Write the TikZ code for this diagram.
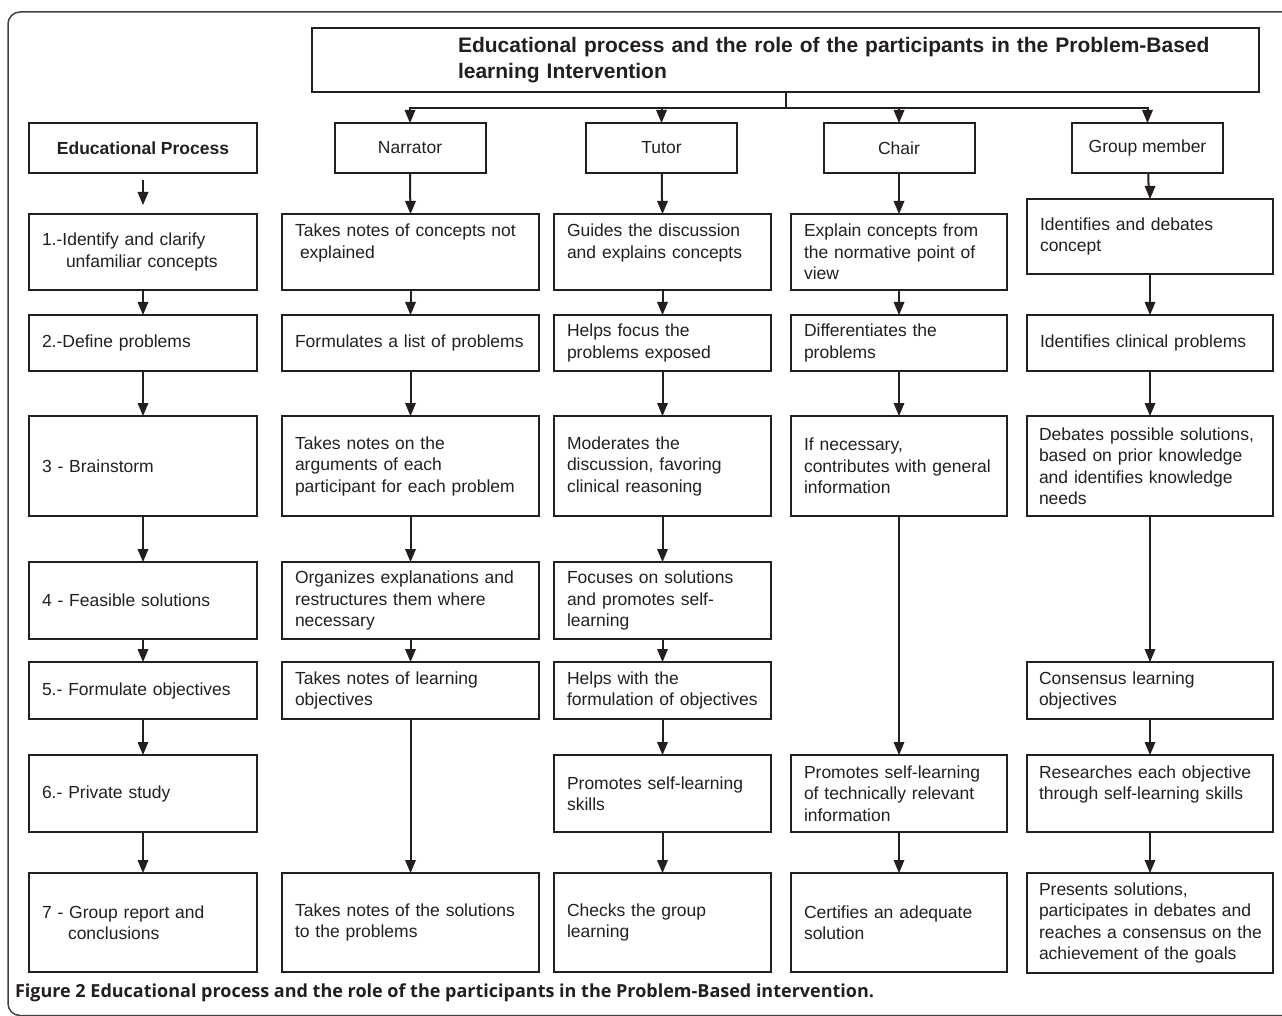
\documentclass[tikz,border=0pt]{standalone}
\usepackage{fontspec}
\setmainfont{Liberation Sans}
\newfontfamily\capfont{Open Sans}
\definecolor{ink}{HTML}{231F20}

\begin{document}
\begin{tikzpicture}[x=1pt,y=-1pt]
\tikzstyle{every node}+=[inner sep=0pt, outer sep=0pt, text=ink]
\tikzstyle{cell}=[draw=ink, line width=2pt, anchor=north west, inner xsep=13pt, align=left, font=\fontsize{17.5}{21.5}\selectfont]
\tikzstyle{role}=[draw=ink, line width=2pt, minimum width=151pt, minimum height=50pt, font=\fontsize{17.5}{21.5}\selectfont]
\tikzstyle{wire}=[draw=ink, line width=2pt, shorten >=6pt]
\useasboundingbox (0,0) rectangle (1282,1016);
\clip (0,0) rectangle (1282,1016);
% frame
\draw [black!75, line width=1.5pt, rounded corners=12pt] (1300,12) -- (8,12) -- (8,1015.5) -- (1300,1015.5);
% title and roles
\node [draw=ink, line width=2pt, anchor=north west, minimum height=64pt, text width=947pt, align=left, font=\bfseries\fontsize{21}{26}\selectfont] (title) at (312,28) {\hspace*{146pt}Educational process and the role of the participants in the Problem-Based\\\hspace*{146pt}learning Intervention};
\node [role, minimum width=228pt, font=\bfseries\fontsize{17.5}{21.5}\selectfont] (ep) at (143,148) {Educational Process};
\node [role] (nar) at (410,148) {Narrator};
\node [role] (tut) at (661.5,148) {Tutor};
\node [role] (cha) at (899,148) {Chair};
\node [role] (gm) at (1147.5,148) {Group member};
\coordinate (bus) at (785.5,108);
\draw [draw=ink, line width=2pt] (title.south) -- (bus);
\draw [wire] (bus) -| (nar.north);
\fill [ink] (nar.north) -- ++(-5.5,-13) -- ++(11,0);
\draw [wire] (bus) -| (gm.north);
\fill [ink] (gm.north) -- ++(-5.5,-13) -- ++(11,0);
\draw [wire] (bus -| tut.north) -- (tut.north);
\fill [ink] (tut.north) -- ++(-5.5,-13) -- ++(11,0);
\draw [wire] (bus -| cha.north) -- (cha.north);
\fill [ink] (cha.north) -- ++(-5.5,-13) -- ++(11,0);
% educational process
\node [cell, text width=202pt, minimum height=76pt] (s1) at (29,214) {1.-Identify and clarify\\\hspace*{24pt}unfamiliar concepts};
\node [cell, text width=202pt, minimum height=56pt] (s2) at (29,315) {2.-Define problems};
\node [cell, text width=202pt, minimum height=100pt] (s3) at (29,416) {3 - Brainstorm};
\node [cell, text width=202pt, minimum height=77pt] (s4) at (29,562) {4 - Feasible solutions};
\node [cell, text width=202pt, minimum height=57pt] (s5) at (29,662) {5.- Formulate objectives};
\node [cell, text width=202pt, minimum height=77pt] (s6) at (29,755) {6.- Private study};
\node [cell, text width=202pt, minimum height=99pt] (s7) at (29,873) {7 - Group report and\\\hspace*{26pt}conclusions};
\draw [wire, shorten <=7pt, shorten >=15pt] (ep) -- (s1);
\fill [ink] ([yshift=9pt]s1.north) -- ++(-5.5,-13) -- ++(11,0);
\draw [wire] (s1) -- (s2);
\fill [ink] (s2.north) -- ++(-5.5,-13) -- ++(11,0);
\draw [wire] (s2) -- (s3);
\fill [ink] (s3.north) -- ++(-5.5,-13) -- ++(11,0);
\draw [wire] (s3) -- (s4);
\fill [ink] (s4.north) -- ++(-5.5,-13) -- ++(11,0);
\draw [wire] (s4) -- (s5);
\fill [ink] (s5.north) -- ++(-5.5,-13) -- ++(11,0);
\draw [wire] (s5) -- (s6);
\fill [ink] (s6.north) -- ++(-5.5,-13) -- ++(11,0);
\draw [wire] (s6) -- (s7);
\fill [ink] (s7.north) -- ++(-5.5,-13) -- ++(11,0);
% narrator
\node [cell, text width=231pt, minimum height=76pt] (n1) at (282,214) {Takes notes of concepts not\\\hspace*{5pt}explained\\\mbox{}};
\node [cell, text width=231pt, minimum height=56pt] (n2) at (282,315) {Formulates a list of problems};
\node [cell, text width=231pt, minimum height=100pt] (n3) at (282,416) {Takes notes on the\\arguments of each\\participant for each problem};
\node [cell, text width=231pt, minimum height=77pt] (n4) at (282,562) {Organizes explanations and\\restructures them where\\necessary};
\node [cell, text width=231pt, minimum height=57pt] (n5) at (282,662) {Takes notes of learning\\objectives};
\node [cell, text width=231pt, minimum height=99pt] (n6) at (282,873) {Takes notes of the solutions\\to the problems};
\draw [wire] (nar) -- (n1);
\fill [ink] (n1.north) -- ++(-5.5,-13) -- ++(11,0);
\draw [wire] (n1) -- (n2);
\fill [ink] (n2.north) -- ++(-5.5,-13) -- ++(11,0);
\draw [wire] (n2) -- (n3);
\fill [ink] (n3.north) -- ++(-5.5,-13) -- ++(11,0);
\draw [wire] (n3) -- (n4);
\fill [ink] (n4.north) -- ++(-5.5,-13) -- ++(11,0);
\draw [wire] (n4) -- (n5);
\fill [ink] (n5.north) -- ++(-5.5,-13) -- ++(11,0);
\draw [wire] (n5) -- (n6);
\fill [ink] (n6.north) -- ++(-5.5,-13) -- ++(11,0);
% tutor
\node [cell, text width=191pt, minimum height=76pt] (t1) at (554,214) {Guides the discussion\\and explains concepts\\\mbox{}};
\node [cell, text width=191pt, minimum height=56pt] (t2) at (554,315) {Helps focus the\\problems exposed};
\node [cell, text width=191pt, minimum height=100pt] (t3) at (554,416) {Moderates the\\discussion, favoring\\clinical reasoning};
\node [cell, text width=191pt, minimum height=77pt] (t4) at (554,562) {Focuses on solutions\\and promotes self-\\learning};
\node [cell, text width=191pt, minimum height=57pt] (t5) at (554,662) {Helps with the\\formulation of objectives};
\node [cell, text width=191pt, minimum height=77pt] (t6) at (554,755) {Promotes self-learning\\skills};
\node [cell, text width=191pt, minimum height=99pt] (t7) at (554,873) {Checks the group\\learning};
\draw [wire] (tut) -- (t1);
\fill [ink] (t1.north) -- ++(-5.5,-13) -- ++(11,0);
\draw [wire] (t1) -- (t2);
\fill [ink] (t2.north) -- ++(-5.5,-13) -- ++(11,0);
\draw [wire] (t2) -- (t3);
\fill [ink] (t3.north) -- ++(-5.5,-13) -- ++(11,0);
\draw [wire] (t3) -- (t4);
\fill [ink] (t4.north) -- ++(-5.5,-13) -- ++(11,0);
\draw [wire] (t4) -- (t5);
\fill [ink] (t5.north) -- ++(-5.5,-13) -- ++(11,0);
\draw [wire] (t5) -- (t6);
\fill [ink] (t6.north) -- ++(-5.5,-13) -- ++(11,0);
\draw [wire] (t6) -- (t7);
\fill [ink] (t7.north) -- ++(-5.5,-13) -- ++(11,0);
% chair
\node [cell, text width=190pt, minimum height=76pt] (c1) at (791,214) {Explain concepts from\\the normative point of\\view};
\node [cell, text width=190pt, minimum height=56pt] (c2) at (791,315) {Differentiates the\\problems};
\node [cell, text width=190pt, minimum height=100pt] (c3) at (791,416) {If necessary,\\contributes with general\\information};
\node [cell, text width=190pt, minimum height=77pt] (c4) at (791,755) {Promotes self-learning\\of technically relevant\\information};
\node [cell, text width=190pt, minimum height=99pt] (c5) at (791,873) {Certifies an adequate\\solution};
\draw [wire] (cha) -- (c1);
\fill [ink] (c1.north) -- ++(-5.5,-13) -- ++(11,0);
\draw [wire] (c1) -- (c2);
\fill [ink] (c2.north) -- ++(-5.5,-13) -- ++(11,0);
\draw [wire] (c2) -- (c3);
\fill [ink] (c3.north) -- ++(-5.5,-13) -- ++(11,0);
\draw [wire] (c3) -- (c4);
\fill [ink] (c4.north) -- ++(-5.5,-13) -- ++(11,0);
\draw [wire] (c4) -- (c5);
\fill [ink] (c5.north) -- ++(-5.5,-13) -- ++(11,0);
% group member
\node [cell, inner xsep=12pt, text width=222pt, minimum height=75pt] (g1) at (1027,199) {\hspace*{1pt}Identifies and debates\\\hspace*{1pt}concept};
\node [cell, inner xsep=12pt, text width=222pt, minimum height=56pt] (g2) at (1027,315) {\hspace*{1pt}Identifies clinical problems};
\node [cell, inner xsep=12pt, text width=222pt, minimum height=100pt] (g3) at (1027,416) {Debates possible solutions,\\based on prior knowledge\\and identifies knowledge\\needs};
\node [cell, inner xsep=12pt, text width=222pt, minimum height=57pt] (g4) at (1027,662) {Consensus learning\\objectives};
\node [cell, inner xsep=12pt, text width=222pt, minimum height=77pt] (g5) at (1027,755) {Researches each objective\\through self-learning skills\\\mbox{}};
\node [cell, inner xsep=12pt, text width=222pt, minimum height=100pt] (g6) at (1027,873) {Presents solutions,\\participates in debates and\\\mbox{reaches a consensus on the}\\achievement of the goals};
\draw [wire] (gm) -- (g1);
\fill [ink] (g1.north) -- ++(-5.5,-13) -- ++(11,0);
\draw [wire] (g1) -- (g2);
\fill [ink] (g2.north) -- ++(-5.5,-13) -- ++(11,0);
\draw [wire] (g2) -- (g3);
\fill [ink] (g3.north) -- ++(-5.5,-13) -- ++(11,0);
\draw [wire] (g3) -- (g4);
\fill [ink] (g4.north) -- ++(-5.5,-13) -- ++(11,0);
\draw [wire] (g4) -- (g5);
\fill [ink] (g5.north) -- ++(-5.5,-13) -- ++(11,0);
\draw [wire] (g5) -- (g6);
\fill [ink] (g6.north) -- ++(-5.5,-13) -- ++(11,0);
% caption
\node [anchor=base west, font=\capfont\bfseries\fontsize{18}{21}\selectfont] (cap) at (15,997) {Figure 2 Educational process and the role of the participants in the Problem-Based intervention.};
\end{tikzpicture}
\end{document}
